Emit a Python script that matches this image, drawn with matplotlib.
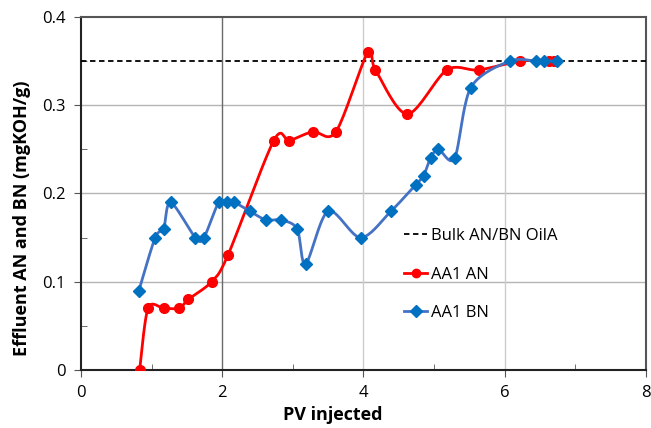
import matplotlib.pyplot as plt
import numpy as np
from matplotlib.ticker import MultipleLocator

plt.rcParams['font.family'] = ['Open Sans', 'DejaVu Sans']

# effluent acid number (AN) vs pore volumes injected
pv_an = [0.83, 0.95, 1.17, 1.39, 1.52, 1.85, 2.08, 2.73, 2.95, 3.28, 3.61,
         4.06, 4.17, 4.62, 5.18, 5.63, 6.22, 6.62, 6.70]
an = [0.0, 0.07, 0.07, 0.07, 0.08, 0.10, 0.13, 0.26, 0.26, 0.27, 0.27,
      0.36, 0.34, 0.29, 0.34, 0.34, 0.35, 0.35, 0.35]

# effluent base number (BN)
pv_bn = [0.82, 1.05, 1.17, 1.27, 1.62, 1.74, 1.95, 2.07, 2.17, 2.39, 2.62,
         2.83, 3.06, 3.18, 3.50, 3.96, 4.39, 4.74, 4.85, 4.95, 5.06, 5.29,
         5.52, 6.07, 6.44, 6.55, 6.74]
bn = [0.09, 0.15, 0.16, 0.19, 0.15, 0.15, 0.19, 0.19, 0.19, 0.18, 0.17,
      0.17, 0.16, 0.12, 0.18, 0.15, 0.18, 0.21, 0.22, 0.24, 0.25, 0.24,
      0.32, 0.35, 0.35, 0.35, 0.35]

bulk = 0.35


def smooth(x, y, n=20, t=0.45):
    # cardinal spline through the points (bezier segments), like a "smoothed line"
    p = np.column_stack([x, y]).astype(float)
    p = np.vstack([p[:1], p, p[-1:]])
    s = np.linspace(0, 1, n, endpoint=False)[:, None]
    out = []
    for i in range(1, len(p) - 2):
        p0, p1, p2, p3 = p[i - 1], p[i], p[i + 1], p[i + 2]
        b1 = p1 + t * (p2 - p0) / 3
        b2 = p2 - t * (p3 - p1) / 3
        seg = (1 - s) ** 3 * p1 + 3 * (1 - s) ** 2 * s * b1 + 3 * (1 - s) * s ** 2 * b2 + s ** 3 * p2
        out.append(seg)
    out.append(p[-1:])
    out = np.vstack(out)
    return out[:, 0], out[:, 1]


fig = plt.figure(figsize=(6.51, 4.28), dpi=100)
ax = fig.add_axes([0.1244, 0.1355, 0.8679, 0.8248])

# gridlines
for yv in [0.1, 0.2, 0.3]:
    ax.axhline(yv, color='#b4b4b4', lw=1, zorder=1)
ax.axvline(2, color='#6a6a6a', lw=1, zorder=1)
for xv in [4, 6]:
    ax.axvline(xv, color='#cccccc', lw=1, zorder=1)

ax.axhline(bulk, color='black', ls=(0, (3, 2)), lw=1.3, label='Bulk AN/BN OilA', zorder=3)

sx, sy = smooth(pv_an, an)
ax.plot(sx, sy, color='#ff0000', lw=2, zorder=4)
ax.plot(pv_an, an, 'o', color='#ff0000', ms=7, zorder=5)
ax.plot([], [], '-o', color='#ff0000', lw=2, ms=6, label='AA1 AN')

sx, sy = smooth(pv_bn, bn)
ax.plot(sx, sy, color='#4472c4', lw=2, zorder=6)
ax.plot(pv_bn, bn, 'D', color='#0070c0', ms=6.5, zorder=7)
ax.plot([], [], '-D', color='#4472c4', mfc='#0070c0', mec='#0070c0', lw=2, ms=6, label='AA1 BN')

ax.set_xlim(0, 8)
ax.set_ylim(0, 0.4)
ax.xaxis.set_major_locator(MultipleLocator(2))
ax.xaxis.set_minor_locator(MultipleLocator(1))
ax.yaxis.set_minor_locator(MultipleLocator(0.05))
ax.set_yticks([0, 0.1, 0.2, 0.3, 0.4])
ax.set_yticklabels(['0', '0.1', '0.2', '0.3', '0.4'])
ax.tick_params(which='major', direction='out', length=5, labelsize=12, color='#555555', pad=6)
ax.tick_params(which='minor', direction='in', length=4, color='#555555')

for side in ['left', 'bottom']:
    ax.spines[side].set_color('#222222')
    ax.spines[side].set_linewidth(1.5)
for side in ['top', 'right']:
    ax.spines[side].set_color('#555555')
    ax.spines[side].set_linewidth(1.5)

ax.set_xlabel('PV injected', fontsize=13, fontweight='bold')
ax.set_ylabel('Effluent AN and BN (mgKOH/g)', fontsize=13, fontweight='bold')
ax.xaxis.set_label_coords(0.446, -0.103)
ax.yaxis.set_label_coords(-0.088, 0.43)

ax.legend(loc='center left', bbox_to_anchor=(0.545, 0.27), frameon=False, fontsize=12,
          handlelength=1.4, handletextpad=0.2, labelspacing=1.35)

fig.savefig('out.png', dpi=100)
